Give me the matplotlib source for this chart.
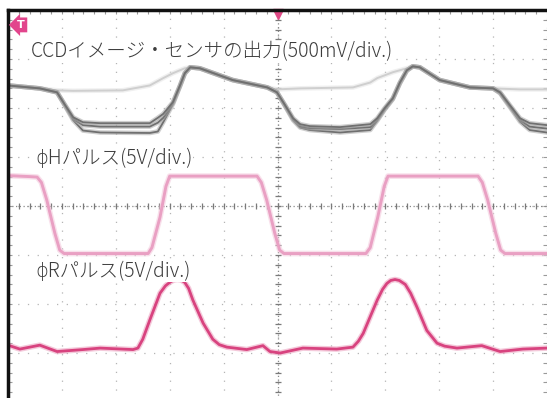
"""Oscilloscope capture: CCD image sensor output with phi-H and phi-R clock pulses."""

import numpy as np
import matplotlib
matplotlib.use("Agg")
import matplotlib.pyplot as plt

plt.rcParams["font.family"] = ["Noto Sans CJK JP", "DejaVu Sans"]

# horizontal position in divisions (10 div across), vertical level in divisions (center = 0)
ccd_t = [0.00, 0.59, 0.91, 1.06, 1.21, 1.39, 1.71, 2.63, 2.78, 2.88, 3.06, 3.19, 3.28,
         3.38, 3.56, 4.17, 4.81, 4.99, 5.14, 5.29, 5.42, 5.60, 6.16, 6.72, 6.85, 6.99,
         7.14, 7.27, 7.40, 7.51, 7.64, 8.01, 8.57, 9.00, 9.13, 9.31, 9.50, 9.68, 10.00]
ccd_upper = [2.46, 2.40, 2.32, 2.06, 1.81, 1.71, 1.69, 1.69, 1.80, 1.88, 2.12, 2.46, 2.71,
             2.83, 2.81, 2.57, 2.42, 2.32, 2.06, 1.79, 1.67, 1.63, 1.61, 1.67, 1.79, 2.00,
             2.20, 2.52, 2.77, 2.85, 2.83, 2.57, 2.42, 2.40, 2.32, 2.06, 1.79, 1.69, 1.65]
ccd_mid = [2.46, 2.40, 2.32, 2.05, 1.78, 1.65, 1.62, 1.62, 1.70, 1.80, 2.10, 2.45, 2.71,
           2.83, 2.81, 2.57, 2.42, 2.32, 2.05, 1.77, 1.63, 1.59, 1.57, 1.61, 1.76, 1.98,
           2.19, 2.51, 2.77, 2.85, 2.83, 2.57, 2.42, 2.40, 2.31, 2.04, 1.76, 1.62, 1.58]
ccd_lower = [2.46, 2.40, 2.32, 2.04, 1.75, 1.54, 1.50, 1.49, 1.52, 1.71, 2.08, 2.44, 2.70,
             2.83, 2.81, 2.57, 2.42, 2.32, 2.04, 1.75, 1.60, 1.55, 1.50, 1.55, 1.74, 1.97,
             2.18, 2.50, 2.76, 2.85, 2.83, 2.57, 2.42, 2.40, 2.30, 2.02, 1.72, 1.55, 1.50]

# faint trace (no signal charge) that stays at the reference level
ref_t = [0.00, 0.59, 0.91, 1.21, 2.13, 2.63, 2.88, 3.06, 3.19, 3.28, 3.38, 3.56, 4.17,
         4.81, 4.99, 5.42, 6.40, 6.72, 6.85, 7.14, 7.27, 7.40, 7.51, 7.64, 8.01, 8.57,
         9.00, 9.50, 10.00]
ref_y = [2.46, 2.40, 2.36, 2.35, 2.36, 2.46, 2.61, 2.71, 2.77, 2.81, 2.83, 2.81, 2.57,
         2.42, 2.38, 2.40, 2.42, 2.52, 2.61, 2.73, 2.77, 2.81, 2.85, 2.83, 2.57, 2.42,
         2.40, 2.38, 2.38]

h_t = [0.00, 0.40, 0.54, 0.62, 0.72, 0.87, 0.96, 1.04, 2.60, 2.67, 2.82, 2.93, 3.00,
       4.62, 4.70, 4.80, 4.95, 5.04, 5.12, 6.64, 6.72, 6.86, 6.98, 7.05,
       8.72, 8.80, 8.90, 9.05, 9.14, 9.22, 10.00]
h_y = [0.62, 0.60, 0.59, 0.48, 0.12, -0.56, -0.90, -0.97, -0.97, -0.85, -0.23, 0.40, 0.61,
       0.61, 0.48, 0.12, -0.56, -0.90, -0.97, -0.97, -0.85, -0.23, 0.40, 0.61,
       0.61, 0.48, 0.12, -0.56, -0.90, -0.97, -0.97]

r_t = [0.00, 0.22, 0.59, 0.91, 1.39, 1.71, 2.32, 2.41, 2.50, 2.63, 2.82, 2.92, 3.01,
       3.08, 3.14, 3.21, 3.28, 3.35, 3.43, 3.62, 3.80, 3.92, 4.06, 4.43, 4.73, 4.86,
       5.05, 5.47, 6.10, 6.40, 6.50, 6.59, 6.85, 6.95, 7.03, 7.10, 7.18, 7.26, 7.37,
       7.47, 7.59, 7.77, 7.96, 8.10, 8.33, 8.79, 9.13, 9.55, 10.00]
r_y = [-2.84, -2.92, -2.84, -2.97, -2.93, -2.90, -2.93, -2.90, -2.72, -2.33, -1.78, -1.63,
       -1.55, -1.51, -1.50, -1.51, -1.56, -1.68, -1.92, -2.39, -2.72, -2.83, -2.88, -2.93,
       -2.85, -2.97, -3.00, -2.90, -2.92, -2.88, -2.76, -2.60, -1.92, -1.70, -1.58, -1.52,
       -1.50, -1.52, -1.60, -1.78, -2.07, -2.54, -2.80, -2.86, -2.90, -2.85, -2.97, -2.92,
       -2.90]

labels = ["CCDイメージ・センサの出力(500mV/div.)", "ϕHパルス(5V/div.)", "ϕRパルス(5V/div.)"]

fig = plt.figure(figsize=(5.47, 3.98), dpi=100, facecolor="white")
ax = fig.add_axes([8 / 547, -4 / 398, 539 / 547, 392 / 398])
ax.set_xlim(0, 10)
ax.set_ylim(-4, 4)

# graticule
ax.set_xticks(range(11))
ax.set_yticks(range(-4, 5))
ax.set_xticks(np.arange(0, 10.01, 0.2), minor=True)
ax.set_yticks(np.arange(-4, 4.01, 0.2), minor=True)
ax.xaxis.grid(True, ls=(0, (1.0, 6.06)), color="#b4b4b4", lw=0.9)
ax.yaxis.grid(True, ls=(0, (1.0, 6.76)), color="#b4b4b4", lw=0.9)
ax.tick_params(which="both", direction="in", top=True, right=True, length=3,
               color="#9a9a9a", width=0.8, labelbottom=False, labelleft=False)
ax.set_axisbelow(True)
for side in ["left", "top"]:
    ax.spines[side].set_color("#111111")
    ax.spines[side].set_linewidth(2.5)
ax.spines["right"].set_visible(False)
ax.spines["bottom"].set_visible(False)

minor_x = np.arange(0, 10.01, 0.2)
minor_y = np.arange(-4, 4.01, 0.2)
ax.axhline(0, ls=(0, (1.0, 2.0)), color="#8a8a8a", lw=0.9)
ax.axvline(5, ls=(0, (1.0, 2.0)), color="#8a8a8a", lw=0.9)
ax.plot(minor_x, np.zeros_like(minor_x), ls="none", marker="|", ms=5, mew=0.9, color="#7a7a7a")
ax.plot(np.full_like(minor_y, 5), minor_y, ls="none", marker="_", ms=5, mew=0.9, color="#7a7a7a")


def trace(x, y, core, halo, lw):
    ax.plot(x, y, color=halo, lw=lw + 2.0, alpha=0.55, solid_joinstyle="round")
    ax.plot(x, y, color=core, lw=lw, solid_joinstyle="round")


trace(ref_t, ref_y, "#cfcfcf", "#e4e4e4", 1.4)
for lvl in [ccd_lower, ccd_mid, ccd_upper]:
    trace(ccd_t, lvl, "#707070", "#a8a8a8", 1.3)
trace(h_t, h_y, "#e9a0c3", "#f3c8db", 2.1)
trace(r_t, r_y, "#d8437f", "#eb9dbd", 2.0)

text_pos = [(0.043, 0.893), (0.050, 0.622), (0.050, 0.334)]
for (tx, ty), lab in zip(text_pos, labels):
    ax.text(tx, ty, lab, transform=ax.transAxes, ha="left", va="center", fontsize=14,
            fontweight="light", color="#3c3c3c", bbox=dict(fc="white", ec="none", pad=0.5))

# trigger markers
ax.text(0.024, 0.962, "T", transform=ax.transAxes, ha="center", va="center",
        fontsize=8, fontweight="bold", color="white", family="DejaVu Sans",
        bbox=dict(boxstyle="larrow,pad=0.22", fc="#e2458c", ec="none"))
ax.plot([0.5], [0.99], transform=ax.transAxes, marker="v", ms=7, color="#e04a86",
        clip_on=False)

fig.savefig("out.png", dpi=100, facecolor="white")
